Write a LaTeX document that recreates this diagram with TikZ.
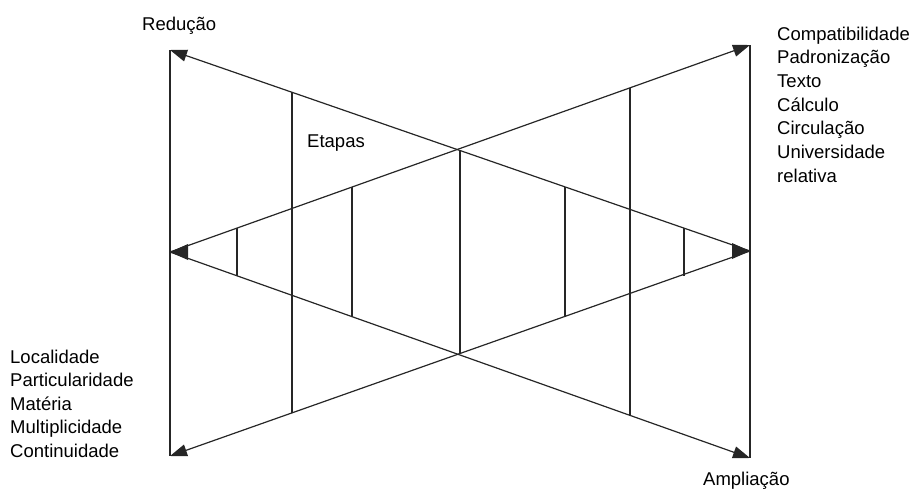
\documentclass[tikz,border=0pt]{standalone}
\usepackage{fontspec}
\setmainfont{Liberation Sans}
\usetikzlibrary{arrows.meta}
\begin{document}
\begin{tikzpicture}[x=1pt,y=-1pt,
  ln/.style={line width=1.2pt,draw=black!85},
  tip/.style={ln,-{Triangle[length=17pt,width=12pt]}},
  lbl/.style={anchor=base west,inner sep=0pt,font=\fontsize{18.5}{22}\selectfont}]
\useasboundingbox (0,0) rectangle (913,490);
% key points
\coordinate (tl) at (170,50);
\coordinate (ml) at (170,252);
\coordinate (bl) at (170,456);
\coordinate (tr) at (750,45);
\coordinate (mr) at (750,251);
\coordinate (br) at (750,458);
% outer verticals
\draw[ln] (tl) -- (bl);
\draw[ln] (tr) -- (br);
% diagonals
\draw[tip] (mr) -- (tl);
\draw[tip] (ml) -- (tr);
\draw[tip] (mr) -- (bl);
\draw[tip] (ml) -- (br);
% middle arrowheads
\fill[black!85] (ml) -- ++(18,-8) -- ++(0,16) -- cycle;
\fill[black!85] (mr) -- ++(-18,-8) -- ++(0,16) -- cycle;
% crossings
\coordinate (cu) at (460,150);
\coordinate (cd) at (460,353);
\draw[ln] (cu) -- (cd);
% outer stage verticals
\coordinate (a1) at (292,92);  \coordinate (a2) at (292,413);
\coordinate (b1) at (630,88);  \coordinate (b2) at (630,415);
\draw[ln] (a1) -- (a2);
\draw[ln] (b1) -- (b2);
% inner stage verticals
\coordinate (c1) at (352,187); \coordinate (c2) at (352,317);
\coordinate (d1) at (237,228); \coordinate (d2) at (237,276);
\coordinate (e1) at (565,187); \coordinate (e2) at (565,316);
\coordinate (f1) at (684,228); \coordinate (f2) at (684,276);
\draw[ln] (c1) -- (c2);
\draw[ln] (d1) -- (d2);
\draw[ln] (e1) -- (e2);
\draw[ln] (f1) -- (f2);
% labels
\node[lbl] (red) at (142,30) {Redução};
\node[lbl] (amp) at (703,485) {Ampliação};
\node[lbl] (eta) at (307,147) {Etapas};
\node[lbl] (r1) at (777,40) {Compatibilidade};
\node[lbl] (r2) at (777,63.7) {Padronização};
\node[lbl] (r3) at (777,87.3) {Texto};
\node[lbl] (r4) at (777,111) {Cálculo};
\node[lbl] (r5) at (777,134.7) {Circulação};
\node[lbl] (r6) at (777,158.3) {Universidade};
\node[lbl] (r7) at (777,182) {relativa};
\node[lbl] (l1) at (10,363) {Localidade};
\node[lbl] (l2) at (10,386.5) {Particularidade};
\node[lbl] (l3) at (10,410) {Matéria};
\node[lbl] (l4) at (10,433.5) {Multiplicidade};
\node[lbl] (l5) at (10,457) {Continuidade};
\end{tikzpicture}
\end{document}
